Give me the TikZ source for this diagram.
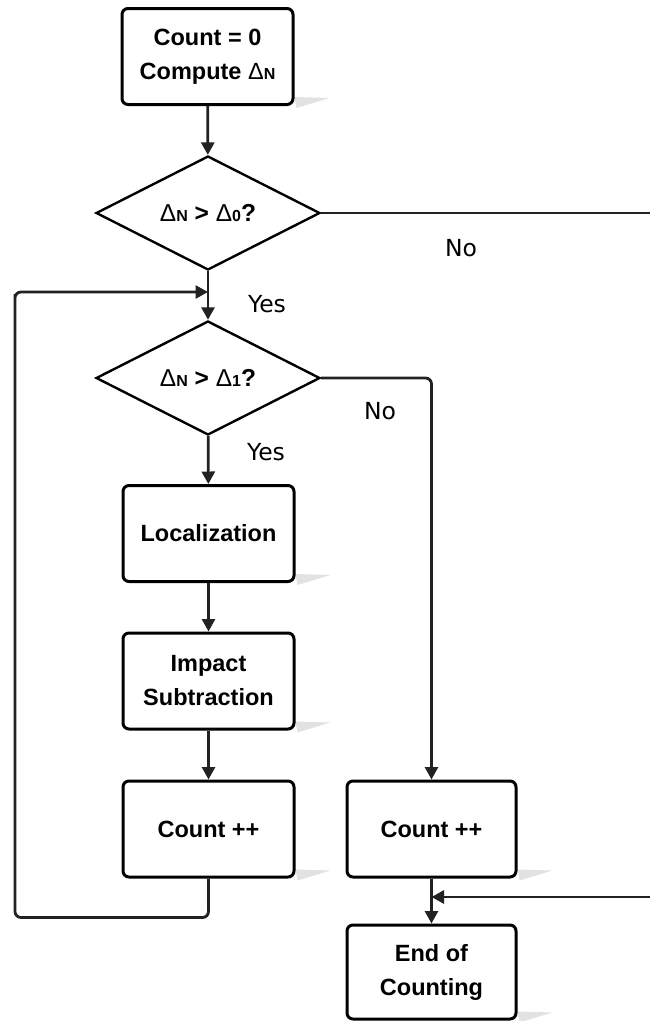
\documentclass[tikz,border=0pt]{standalone}
\usepackage{fontspec}
\setmainfont{Liberation Sans}
\newfontfamily\labelfont{DejaVu Sans}
\usetikzlibrary{arrows.meta,shapes.geometric,calc,backgrounds}

% Greek delta (regular weight) followed by a small bold index
\newcommand{\dlt}[1]{{\mdseries Δ}{\fontsize{16}{16}\selectfont #1}}

\definecolor{linegray}{HTML}{222222}
\definecolor{shadowgray}{HTML}{E2E2E2}

\tikzset{
  stepbox/.style={draw=black, line width=3pt, rounded corners=6pt, fill=white,
    minimum width=171pt, minimum height=96pt, inner sep=0pt, align=center,
    font=\fontsize{23.5}{34}\selectfont\bfseries},
  decide/.style={draw=black, line width=2.4pt, diamond, aspect=2, fill=white,
    minimum width=224pt, minimum height=114pt, inner sep=0pt,
    font=\fontsize{24.5}{28}\selectfont\bfseries},
  flow/.style={draw=linegray, line width=2.8pt, rounded corners=6pt,
    -{Triangle[length=12.5pt,width=13pt]}},
  plain/.style={draw=linegray, line width=2.8pt, rounded corners=6pt},
  answer/.style={font=\labelfont\fontsize{23.5}{23.5}\selectfont, text=black},
}

\begin{document}
\begin{tikzpicture}[x=1pt,y=-1pt]
  \useasboundingbox (0,0) rectangle (650,1021);

  % process and decision nodes
  \node[stepbox] (init) at (207.5,56.5) {Count = 0\\Compute \dlt{N}};
  \node[decide] (testA) at (208,213) {\dlt{N} > \dlt{0}?};
  \node[decide] (testB) at (208,378) {\dlt{N} > \dlt{1}?};
  \node[stepbox] (local) at (208.5,533.5) {Localization};
  \node[stepbox] (impact) at (208.5,681) {Impact\\Subtraction};
  \node[stepbox] (countL) at (208.5,829) {Count ++};
  \node[stepbox, minimum width=169pt] (countR) at (431.5,829) {Count ++};
  \node[stepbox, minimum width=169pt, minimum height=94pt] (finish) at (431.5,972) {End of\\Counting};

  % soft drop shadows at the lower right of every box
  \begin{scope}[on background layer]
    \foreach \n in {init,local,impact,countL,countR,finish}{
      \fill[shadowgray] ($(\n.south east)+(0,-9)$) -- ++(35,1)
        -- ($(\n.south east)+(2,2)$) -- cycle;
    }
  \end{scope}

  % free ends at the right border and junction points
  \coordinate (edgeTop) at (650,213);
  \coordinate (edgeBot) at (650,897);
  \coordinate (merge) at (431.5,897);
  \coordinate (reentry) at (208,292);

  % connectors
  \draw[flow] (init) -- (testA);
  \draw[plain] (testA.east) -- (edgeTop);
  \draw[flow] (testA) -- (testB);
  \draw[flow] (testB.east) -| (countR.north);
  \draw[flow] (testB) -- (local);
  \draw[flow] (local) -- (impact);
  \draw[flow] (impact) -- (countL);
  \draw[flow] (countL.south) -- ++(0,39) -| (15,300) |- (reentry);
  \draw[flow] (countR) -- (finish);
  \draw[flow] (edgeBot) -- (merge);

  % branch labels
  \node[answer] (noA) at (461,248) {No};
  \node[answer] (yesA) at (267,304) {Yes};
  \node[answer] (noB) at (380,411) {No};
  \node[answer] (yesB) at (266,452) {Yes};
\end{tikzpicture}
\end{document}
